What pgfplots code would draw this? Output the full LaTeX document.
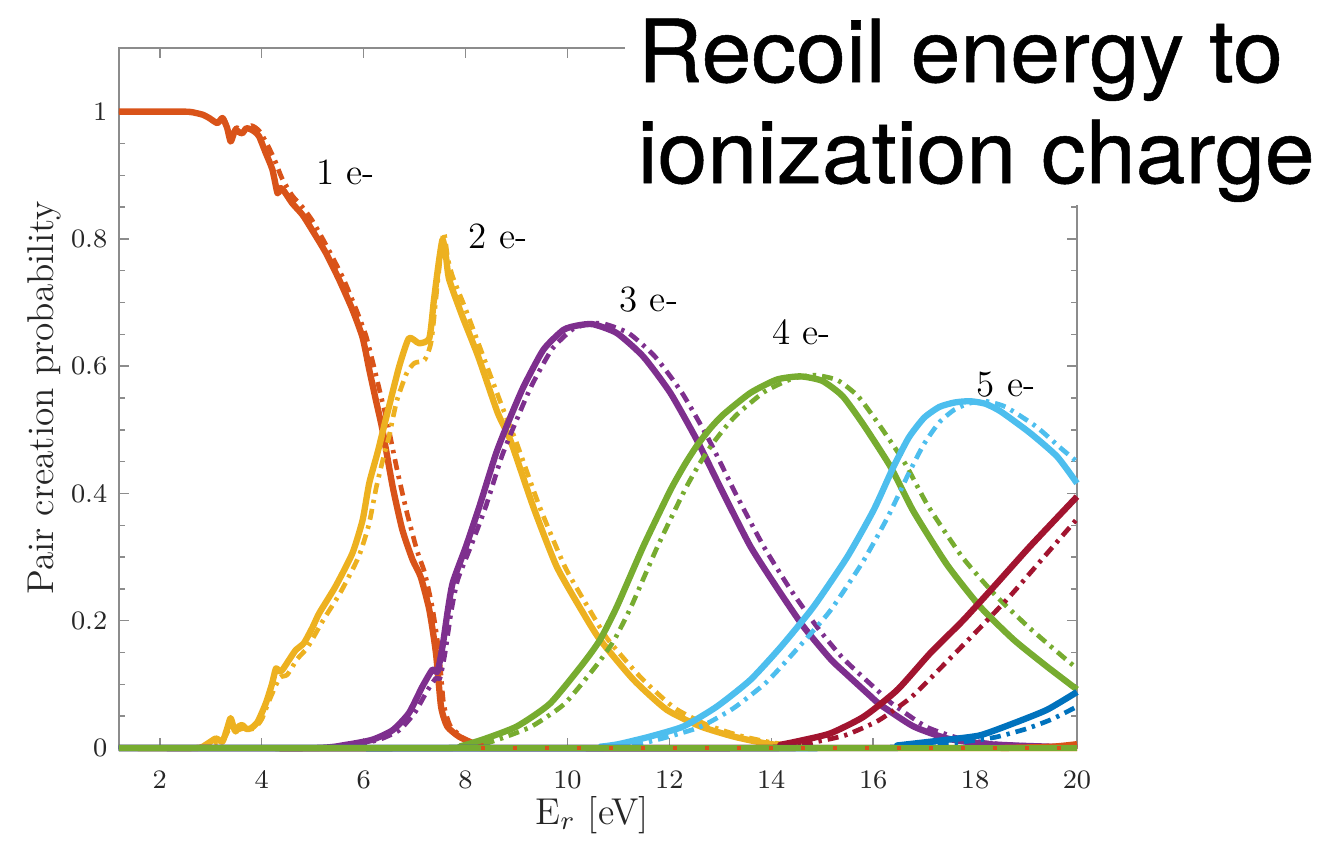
\documentclass[border=0pt]{standalone}
\usepackage{fontspec}
\usepackage{pgfplots}
\pgfplotsset{compat=1.18}
\newfontfamily\titlefont[FakeBold=0.6, FakeStretch=1.03]{TeX Gyre Heros}

\definecolor{c1}{RGB}{217,83,25}
\definecolor{c2}{RGB}{237,177,32}
\definecolor{c3}{RGB}{126,47,142}
\definecolor{c4}{RGB}{119,172,48}
\definecolor{c5}{RGB}{77,190,238}
\definecolor{c6}{RGB}{162,20,47}
\definecolor{c7}{RGB}{0,114,189}

\pgfplotsset{
  sim/.style={line width=1.9pt, line join=round, smooth, tension=0.35},
  model/.style={line width=1.4pt, line join=round, smooth, tension=0.35,
    dash pattern={on 3.3pt off 1.8pt on 1pt off 1.8pt}},
}

\begin{document}
\begin{tikzpicture}
\path[use as bounding box] (-35.7pt,-28.5pt) rectangle (360.9pt,224.4pt);
\begin{axis}[
  scale only axis, width=287.4pt, height=210pt,
  at={(0,0)}, anchor=south west,
  xmin=1.2, xmax=20, ymin=0, ymax=1.1,
  xtick={2,4,...,20}, ytick={0,0.2,0.4,0.6,0.8,1},
  minor y tick num=3,
  tick align=inside,
  major tick length=3pt, minor tick length=1.8pt,
  axis line style={black!45, line width=0.45pt},
  every tick/.style={black!45, line width=0.45pt},
  tick label style={font=\fontsize{8.4}{10}\selectfont, text=black!85},
  xticklabel style={yshift=-3.5pt},
  xlabel={$\mathrm{E}_r$ [eV]},
  ylabel={Pair creation probability},
  label style={font=\fontsize{11.2}{13}\selectfont, text=black!85},
  xlabel style={at={(axis description cs:0.494,-0.0957)}, anchor=center},
  ylabel style={at={(axis description cs:-0.078,0.5)}, anchor=center, rotate=0},
  clip=false,
]
% 1 e-
\addplot[sim, c1] coordinates {
(1.2,1.0) (2.5,1.0) (2.7,0.998) (2.85,0.995) (2.97,0.99) (3.13,0.982) (3.23,0.99)
(3.32,0.975) (3.39,0.953) (3.45,0.965) (3.49,0.972) (3.55,0.968) (3.62,0.966)
(3.7,0.974) (3.79,0.972) (3.87,0.968) (3.95,0.961) (4.08,0.935) (4.21,0.909)
(4.31,0.872) (4.37,0.88) (4.44,0.875) (4.6,0.856) (4.8,0.838) (4.99,0.814)
(5.26,0.778) (5.52,0.736) (5.78,0.689) (5.98,0.645) (6.11,0.595) (6.24,0.547)
(6.37,0.5) (6.57,0.411) (6.76,0.343) (6.96,0.296) (7.12,0.269) (7.29,0.217)
(7.42,0.149) (7.52,0.065) (7.64,0.034) (7.87,0.018) (8.14,0.008) (8.4,0.003)
(8.7,0.0) (20,0.0)};
\addplot[model, c1] coordinates {
(1.2,1.0) (2.7,0.998) (2.97,0.99) (3.13,0.982) (3.25,0.99) (3.4,0.96) (3.5,0.975)
(3.62,0.97) (3.8,0.978) (3.95,0.97) (4.1,0.95) (4.25,0.925) (4.4,0.895)
(4.6,0.868) (4.8,0.85) (5.0,0.828) (5.3,0.785) (5.6,0.738) (5.85,0.69)
(6.05,0.647) (6.2,0.6) (6.35,0.55) (6.47,0.51) (6.65,0.44) (6.85,0.37)
(7.05,0.31) (7.2,0.275) (7.35,0.22) (7.48,0.15) (7.57,0.07) (7.7,0.035)
(7.95,0.016) (8.2,0.006) (8.5,0.0) (20,0.0)};
% 2 e-
\addplot[sim, c2] coordinates {
(1.2,0) (2.7,0) (2.9,0.005) (3.1,0.015) (3.23,0.01) (3.32,0.03) (3.39,0.047)
(3.45,0.032) (3.49,0.026) (3.55,0.034) (3.62,0.036) (3.7,0.03) (3.79,0.031)
(3.92,0.041) (4.08,0.07) (4.2,0.1) (4.28,0.125) (4.35,0.12) (4.41,0.123)
(4.55,0.14) (4.67,0.154) (4.83,0.165) (5.0,0.19) (5.13,0.212) (5.45,0.254)
(5.78,0.306) (5.98,0.358) (6.11,0.416) (6.27,0.463) (6.4,0.505) (6.5,0.537)
(6.7,0.6) (6.89,0.644) (7.09,0.636) (7.29,0.644) (7.38,0.704) (7.47,0.76)
(7.55,0.799) (7.62,0.77) (7.68,0.736) (7.94,0.678) (8.25,0.615) (8.63,0.527)
(8.88,0.484) (9.33,0.379) (9.79,0.285) (10.31,0.212) (10.64,0.17) (11.3,0.107)
(11.95,0.06) (12.61,0.034) (13.26,0.018) (13.91,0.007) (14.5,0.002) (15,0) (20,0)};
\addplot[model, c2] coordinates {
(1.2,0) (2.8,0) (3.0,0.005) (3.2,0.012) (3.3,0.02) (3.42,0.04) (3.5,0.028)
(3.6,0.03) (3.75,0.032) (3.85,0.03) (4.0,0.045) (4.15,0.075) (4.35,0.11)
(4.5,0.115) (4.7,0.14) (4.9,0.158) (5.2,0.2) (5.55,0.245) (5.9,0.3)
(6.1,0.35) (6.25,0.41) (6.4,0.46) (6.5,0.49) (6.65,0.545) (6.85,0.59)
(7.0,0.605) (7.2,0.61) (7.33,0.64) (7.45,0.73) (7.57,0.81) (7.65,0.77)
(7.75,0.74) (8.0,0.69) (8.35,0.615) (8.75,0.53) (9.0,0.48) (9.45,0.38)
(9.95,0.285) (10.45,0.215) (10.8,0.17) (11.45,0.11) (12.1,0.063) (12.75,0.036)
(13.4,0.019) (14.05,0.008) (14.7,0.002) (15.2,0) (20,0)};
% 3 e-
\addplot[sim, c3] coordinates {
(1.2,0) (5.0,0) (5.65,0.005) (6.17,0.013) (6.57,0.028) (6.89,0.055) (7.15,0.096)
(7.35,0.123) (7.45,0.12) (7.55,0.16) (7.65,0.215) (7.75,0.26) (8.01,0.317)
(8.27,0.379) (8.6,0.463) (8.86,0.516) (9.14,0.568) (9.53,0.626) (9.92,0.657)
(10.2,0.664) (10.5,0.666) (10.97,0.652) (11.49,0.615) (12.02,0.558) (12.54,0.484)
(13.06,0.4) (13.59,0.317) (14.11,0.252) (14.63,0.191) (15.16,0.14) (15.49,0.115)
(15.94,0.082) (16.14,0.068) (16.79,0.034) (17.45,0.015) (18.1,0.007) (18.76,0.004)
(19.5,0.002) (20,0.001)};
\addplot[model, c3] coordinates {
(1.2,0) (5.2,0) (5.8,0.005) (6.3,0.013) (6.7,0.028) (7.0,0.055) (7.25,0.09)
(7.42,0.11) (7.5,0.11) (7.6,0.15) (7.72,0.215) (7.85,0.265) (8.12,0.32)
(8.4,0.38) (8.72,0.46) (9.0,0.515) (9.3,0.57) (9.7,0.627) (10.1,0.658)
(10.4,0.666) (10.7,0.667) (11.2,0.652) (11.72,0.615) (12.25,0.558) (12.78,0.484)
(13.3,0.4) (13.85,0.317) (14.37,0.25) (14.9,0.19) (15.42,0.14) (16.2,0.082)
(16.4,0.068) (17.05,0.033) (17.7,0.015) (18.35,0.007) (19.0,0.004) (20,0.001)};
% 4 e-
\addplot[sim, c4] coordinates {
(1.2,0) (7.5,0) (7.9,0.003) (8.09,0.007) (8.4,0.015) (9.01,0.034) (9.66,0.07)
(10.31,0.133) (10.64,0.17) (10.97,0.222) (11.49,0.317) (12.02,0.405) (12.3,0.445)
(12.54,0.475) (12.8,0.502) (13.06,0.524) (13.59,0.558) (14.11,0.579) (14.57,0.584)
(15.0,0.577) (15.4,0.553) (15.81,0.508) (16.34,0.442) (16.79,0.372) (17.45,0.288)
(18.1,0.222) (18.76,0.17) (19.41,0.128) (20,0.092)};
\addplot[model, c4] coordinates {
(1.2,0) (7.8,0) (8.2,0.003) (8.4,0.007) (8.7,0.015) (9.3,0.034) (9.95,0.07)
(10.6,0.133) (10.92,0.17) (11.25,0.222) (11.77,0.317) (12.3,0.405) (12.58,0.445)
(12.82,0.475) (13.08,0.502) (13.34,0.525) (13.87,0.56) (14.4,0.58) (14.85,0.586)
(15.3,0.578) (15.7,0.553) (16.1,0.51) (16.62,0.448) (17.08,0.38) (17.75,0.3)
(18.4,0.24) (19.05,0.19) (19.7,0.145) (20,0.125)};
% 5 e-
\addplot[sim, c5] coordinates {
(1.2,0) (10.3,0) (10.64,0.002) (11.0,0.006) (11.62,0.018) (12.28,0.034)
(12.93,0.065) (13.59,0.107) (14.2,0.16) (14.83,0.222) (15.49,0.3) (16.01,0.374)
(16.4,0.442) (16.7,0.488) (17.0,0.519) (17.3,0.536) (17.6,0.543) (17.9,0.545)
(18.2,0.541) (18.5,0.529) (19.08,0.495) (19.61,0.458) (20,0.416)};
\addplot[model, c5] coordinates {
(1.2,0) (10.6,0) (11.0,0.002) (11.4,0.006) (11.95,0.017) (12.6,0.033)
(13.25,0.062) (13.9,0.103) (14.5,0.155) (15.15,0.215) (15.8,0.293) (16.3,0.365)
(16.7,0.432) (17.0,0.478) (17.3,0.512) (17.6,0.532) (17.9,0.542) (18.2,0.545)
(18.6,0.536) (19.2,0.505) (19.7,0.47) (20,0.45)};
% 6 e-
\addplot[sim, c6] coordinates {
(1.2,0) (13.8,0) (14.18,0.005) (14.6,0.012) (15.16,0.023) (15.81,0.049)
(16.47,0.091) (17.12,0.149) (17.77,0.201) (18.43,0.259) (19.08,0.317) (20,0.395)};
\addplot[model, c6] coordinates {
(1.2,0) (14.1,0) (14.5,0.004) (14.9,0.01) (15.45,0.02) (16.1,0.043)
(16.75,0.08) (17.4,0.132) (18.05,0.185) (18.7,0.24) (19.35,0.3) (20,0.36)};
% 7 e-
\addplot[sim, c7] coordinates {
(1.2,0) (16.0,0) (16.47,0.004) (17.45,0.013) (18.1,0.02) (18.76,0.039)
(19.41,0.06) (20,0.088)};
\addplot[model, c7] coordinates {
(1.2,0) (16.4,0) (17.0,0.004) (17.8,0.01) (18.4,0.017) (19.0,0.03)
(19.5,0.045) (20,0.065)};
% 8 e- and above: still zero over this range
\addplot[sim, c1] coordinates {(18.5,0) (19.5,0.002) (20,0.006)};
\addplot[c4, line width=1.9pt] coordinates {(1.2,0) (20,0)};
\addplot[c1, line width=1.2pt, dash pattern={on 1.2pt off 8.4pt}] coordinates {(8.3,0) (20,0)};

\node[font=\fontsize{11.1}{13}\selectfont] at (axis cs:5.65,0.904) {1 e-};
\node[font=\fontsize{11.1}{13}\selectfont] at (axis cs:8.64,0.804) {2 e-};
\node[font=\fontsize{11.1}{13}\selectfont] at (axis cs:11.6,0.704) {3 e-};
\node[font=\fontsize{11.1}{13}\selectfont] at (axis cs:14.6,0.653) {4 e-};
\node[font=\fontsize{11.1}{13}\selectfont] at (axis cs:18.61,0.571) {5 e-};
\end{axis}

\begin{scope}[x=0.3pt, y=-0.3pt, shift={(-35.7pt,224.4pt)}]
  \fill[white] (625,-10) rectangle (1330,205);
  \node[anchor=base west, inner sep=0pt, font=\titlefont\fontsize{26.1}{30}\selectfont] at (637,82) {Recoil energy to};
  \node[anchor=base west, inner sep=0pt, font=\titlefont\fontsize{26.1}{30}\selectfont] at (637,183) {ionization charge};
\end{scope}
\end{tikzpicture}
\end{document}
